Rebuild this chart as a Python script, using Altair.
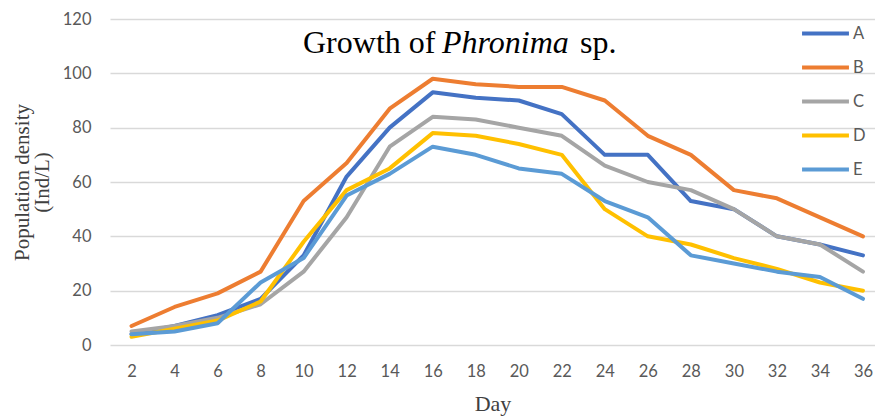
import altair as alt
import pandas as pd

days = [2, 4, 6, 8, 10, 12, 14, 16, 18, 20, 22, 24, 26, 28, 30, 32, 34, 36]
series_a = [4, 7, 11, 17, 33, 62, 80, 93, 91, 90, 85, 70, 70, 53, 50, 40, 37, 33]
series_b = [7, 14, 19, 27, 53, 67, 87, 98, 96, 95, 95, 90, 77, 70, 57, 54, 47, 40]
series_c = [5, 7, 10, 15, 27, 47, 73, 84, 83, 80, 77, 66, 60, 57, 50, 40, 37, 27]
series_d = [3, 6, 9, 16, 38, 57, 65, 78, 77, 74, 70, 50, 40, 37, 32, 28, 23, 20]
series_e = [4, 5, 8, 23, 32, 55, 63, 73, 70, 65, 63, 53, 47, 33, 30, 27, 25, 17]
names = ["A", "B", "C", "D", "E"]
colors = ["#4472C4", "#ED7D31", "#A5A5A5", "#FFC000", "#5B9BD5"]
y_ticks = [0, 20, 40, 60, 80, 100, 120]

rows = []
for name, vals in zip(names, [series_a, series_b, series_c, series_d, series_e]):
    for d, v in zip(days, vals):
        rows.append({"Day": d, "Value": v, "Series": name})
df = pd.DataFrame(rows)

label_font = "Lato"
lines = alt.Chart(df).mark_line(strokeWidth=4, strokeCap="round", strokeJoin="round").encode(
    x=alt.X("Day:Q", scale=alt.Scale(domain=[1, 36.56], nice=False, zero=False),
            axis=alt.Axis(values=days, format="d", title="Day", grid=False, ticks=False,
                          domain=False, labelPadding=18, labelFontSize=16.5, labelColor="#595959",
                          labelFont=label_font, titleFont="Liberation Serif", titleFontSize=22,
                          titleFontWeight="normal", titleColor="#404040", titlePadding=14)),
    y=alt.Y("Value:Q", scale=alt.Scale(domain=[0, 120], nice=False),
            axis=alt.Axis(values=y_ticks, title=["Population density", "(Ind/L)"],
                          grid=True, gridColor="#D9D9D9", gridWidth=1.3, ticks=False, domain=False,
                          labelPadding=19, labelFontSize=16.5, labelColor="#595959", labelFont=label_font,
                          titleFont="Liberation Serif", titleFontSize=21, titleFontWeight="normal",
                          titleColor="#404040", titlePadding=10, titleLineHeight=20)),
    color=alt.Color("Series:N", scale=alt.Scale(domain=names, range=colors),
                    legend=alt.Legend(title=None, orient="none", legendX=690, legendY=-11,
                                      symbolType="stroke", symbolSize=2200, symbolStrokeWidth=4,
                                      labelFontSize=16.5, labelFont=label_font, labelColor="#595959",
                                      labelOffset=2, rowPadding=-14)),
)

title_df = pd.DataFrame({"t": [0]})
title_style = dict(font="Liberation Serif", fontSize=32, align="left", baseline="alphabetic", color="#000000")
t1 = alt.Chart(title_df).mark_text(text="Growth of", **title_style).encode(x=alt.value(193), y=alt.value(34))
t2 = alt.Chart(title_df).mark_text(text="Phronima", fontStyle="italic", **title_style).encode(
    x=alt.value(332), y=alt.value(34))
t3 = alt.Chart(title_df).mark_text(text="sp.", **title_style).encode(x=alt.value(470), y=alt.value(34))

chart = alt.layer(lines, t1, t2, t3).properties(
    width=765, height=326,
    autosize=alt.AutoSizeParams(type="none"),
    padding={"left": 102, "top": 11, "right": 0, "bottom": 72},
    background="white",
).configure_view(stroke=None)

chart.save("out.html", embed_options={"renderer": "svg", "actions": False})
